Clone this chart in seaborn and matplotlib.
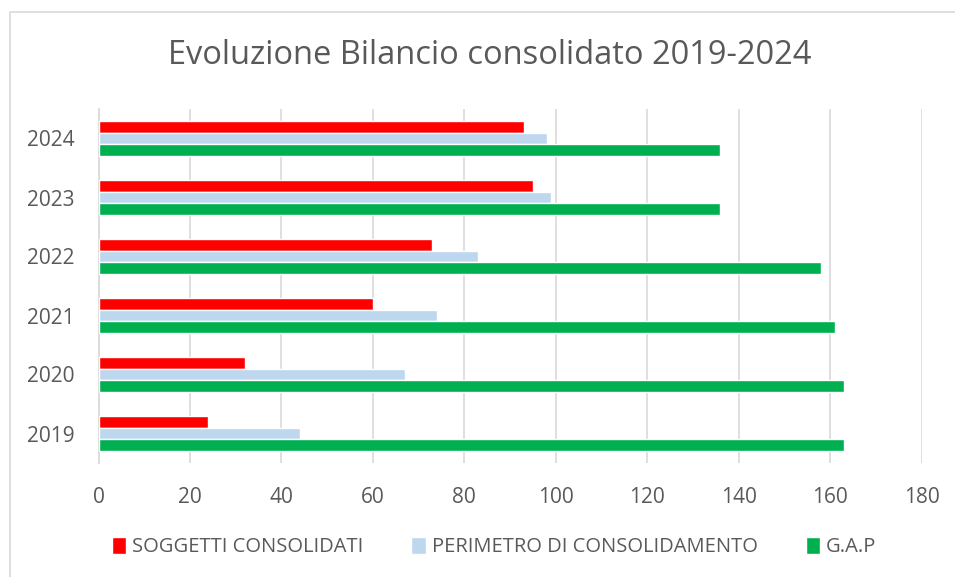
import pandas as pd
import numpy as np
import matplotlib.pyplot as plt
import seaborn as sns
from matplotlib.patches import Rectangle

years = ["2024", "2023", "2022", "2021", "2020", "2019"]
soggetti = [93, 95, 73, 60, 32, 24]
perimetro = [98, 99, 83, 74, 67, 44]
gap = [136, 136, 158, 161, 163, 163]

series = ["SOGGETTI CONSOLIDATI", "PERIMETRO DI CONSOLIDAMENTO", "G.A.P"]
colors = ["#ff0000", "#bdd7ee", "#00b050"]

df = pd.DataFrame({
    "anno": years * 3,
    "valore": soggetti + perimetro + gap,
    "serie": [series[0]] * 6 + [series[1]] * 6 + [series[2]] * 6,
})

sns.set_style("white")
plt.rcParams["font.family"] = ["Open Sans", "DejaVu Sans"]
txt = "#595959"

fig = plt.figure(figsize=(9.55, 5.77), dpi=100)
# chart border
fig.add_artist(Rectangle((10 / 955, -0.1), 1.0, 1 - 12 / 577 + 0.1, transform=fig.transFigure,
                         fill=False, edgecolor="#d9d9d9", lw=1.2))
ax = fig.add_axes([98.5 / 955, 1 - 463 / 577, (921.5 - 98.5) / 955, (463 - 109) / 577])

sns.barplot(data=df, y="anno", x="valore", hue="serie", order=years, hue_order=series,
            palette=colors, orient="h", width=0.61, gap=0, saturation=1, ax=ax, zorder=3)

ax.set_xlim(0, 180)
ax.set_xticks(range(0, 181, 20))
ax.grid(axis="x", color="#d9d9d9", lw=1.2, zorder=0)
ax.set_axisbelow(True)
ax.set_xlabel("")
ax.set_ylabel("")
for s in ["top", "right", "bottom"]:
    ax.spines[s].set_visible(False)
ax.spines["left"].set_color("#d9d9d9")
ax.spines["left"].set_linewidth(1.2)

# category separators as small ticks on the left
ax.set_yticks(np.arange(len(years)))
ax.set_yticklabels(years, fontsize=15, color=txt)
ax.set_yticks(np.arange(len(years) + 1) - 0.5, minor=True)
ax.tick_params(axis="y", which="major", length=0, pad=17)
ax.tick_params(axis="y", which="minor", length=5, color="#d9d9d9", width=1.2)
ax.tick_params(axis="x", length=0, labelsize=15, labelcolor=txt, pad=17)

fig.text(490 / 955, 1 - 55 / 577, "Evoluzione Bilancio consolidato 2019-2024",
         ha="center", va="center", fontsize=23.5, color=txt)

handles, labels = ax.get_legend_handles_labels()
ax.legend(handles, labels, loc="center", bbox_to_anchor=(494 / 955, (577 - 547) / 577),
          bbox_transform=fig.transFigure, ncol=3, frameon=False, fontsize=14.5,
          labelcolor=txt, handlelength=0.7, handleheight=0.9, handletextpad=0.3,
          columnspacing=2.4)

fig.savefig("out.png", dpi=100)
